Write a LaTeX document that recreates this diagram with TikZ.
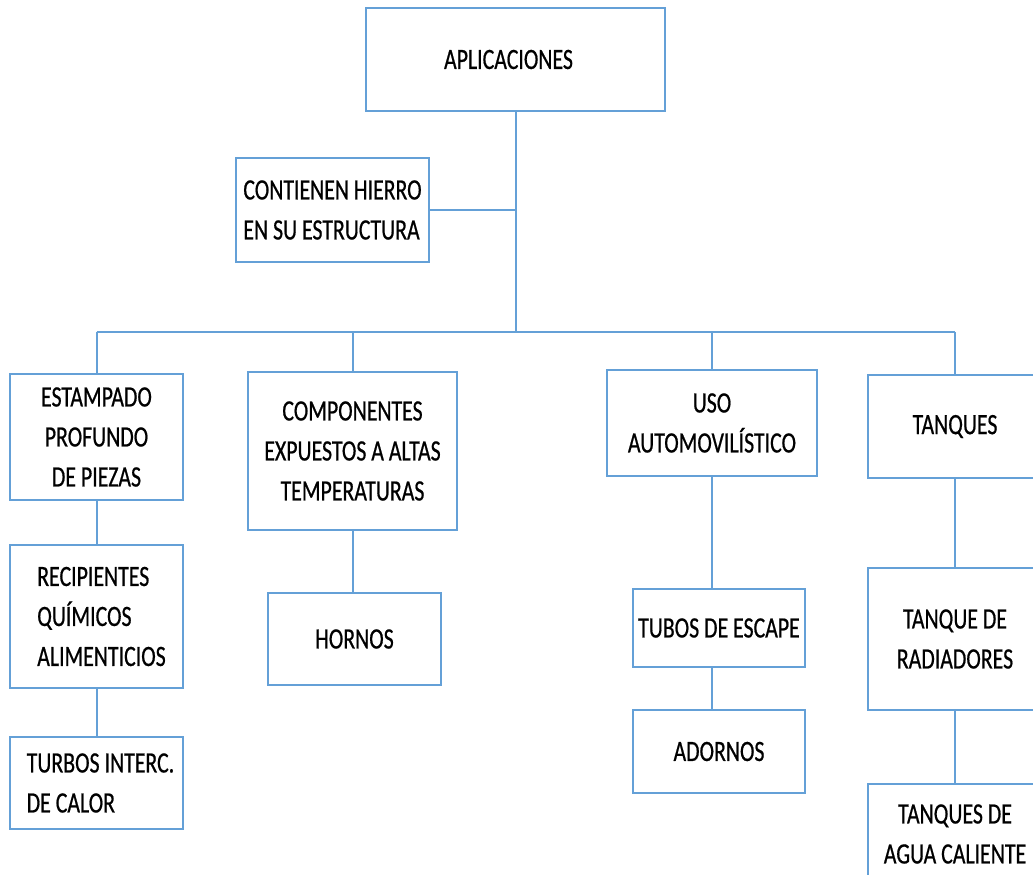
\documentclass[tikz,border=0pt]{standalone}
\usepackage{fontspec}
\setmainfont{Carlito}[FakeStretch=0.74,FakeBold=0.6]
\definecolor{boxblue}{RGB}{100,160,215}
\begin{document}
\begin{tikzpicture}[x=1pt,y=-1pt,
  box/.style={draw=boxblue,line width=2pt,fill=white,inner sep=0pt,
    font=\fontsize{29.5}{40}\selectfont,align=center},
  link/.style={draw=boxblue,line width=2pt}]
\clip (0,0) rectangle (1033,875);
\fill[white] (0,0) rectangle (1033,875);
% boxes
\node[box,minimum width=299pt,minimum height=103pt] (apl) at (515.5,59.5) {APLICACIONES\hspace{14pt}};
\node[box,minimum width=193pt,minimum height=104pt,align=left] (cont) at (332.5,210) {CONTIENEN HIERRO\\EN SU ESTRUCTURA};
\node[box,minimum width=173pt,minimum height=126pt] (est) at (96.5,437) {ESTAMPADO\\PROFUNDO\\DE PIEZAS};
\node[box,minimum width=209pt,minimum height=158pt] (comp) at (352.5,451) {COMPONENTES\\EXPUESTOS A ALTAS\\TEMPERATURAS};
\node[box,minimum width=210pt,minimum height=106pt] (uso) at (712,423) {USO\\AUTOMOVILÍSTICO};
\node[box,minimum width=174pt,minimum height=103pt] (tan) at (955,426.5) {TANQUES};
\node[box,minimum width=173pt,minimum height=143pt,align=left] (rec) at (96.5,616.5) {\hspace{10pt}RECIPIENTES\\\hspace{10pt}QUÍMICOS\\\hspace{10pt}ALIMENTICIOS};
\node[box,minimum width=173pt,minimum height=92pt,align=left] (tur) at (96.5,783) {\hspace{8pt}TURBOS INTERC.\\\hspace{8pt}DE CALOR};
\node[box,minimum width=173pt,minimum height=92pt] (hor) at (354.5,639) {HORNOS};
\node[box,minimum width=172pt,minimum height=78pt] (tub) at (719,628) {TUBOS DE ESCAPE};
\node[box,minimum width=172pt,minimum height=83pt] (ado) at (719,751.5) {ADORNOS};
\node[box,minimum width=174pt,minimum height=142pt] (rad) at (955,639) {TANQUE DE\\RADIADORES};
\node[box,minimum width=174pt,minimum height=100pt] (agu) at (955,834) {TANQUES DE\\AGUA CALIENTE};
% connectors
\coordinate (j) at (515.5,332);
\draw[link] (apl.south) -- (j);
\draw[link] (cont.east) -- (cont.east -| apl.south);
\draw[link] (est.north |- j) -- (tan.north |- j);
\draw[link] (est.north |- j) -- (est.north);
\draw[link] (comp.north |- j) -- (comp.north);
\draw[link] (uso.north |- j) -- (uso.north);
\draw[link] (tan.north |- j) -- (tan.north);
\draw[link] (est.south) -- (rec.north);
\draw[link] (rec.south) -- (tur.north);
\draw[link] (comp.south) -- (comp.south |- hor.north);
\draw[link] (uso.south) -- (uso.south |- tub.north);
\draw[link] (tub.south -| uso.south) -- (ado.north -| uso.south);
\draw[link] (tan.south) -- (rad.north);
\draw[link] (rad.south) -- (agu.north);
\end{tikzpicture}
\end{document}
